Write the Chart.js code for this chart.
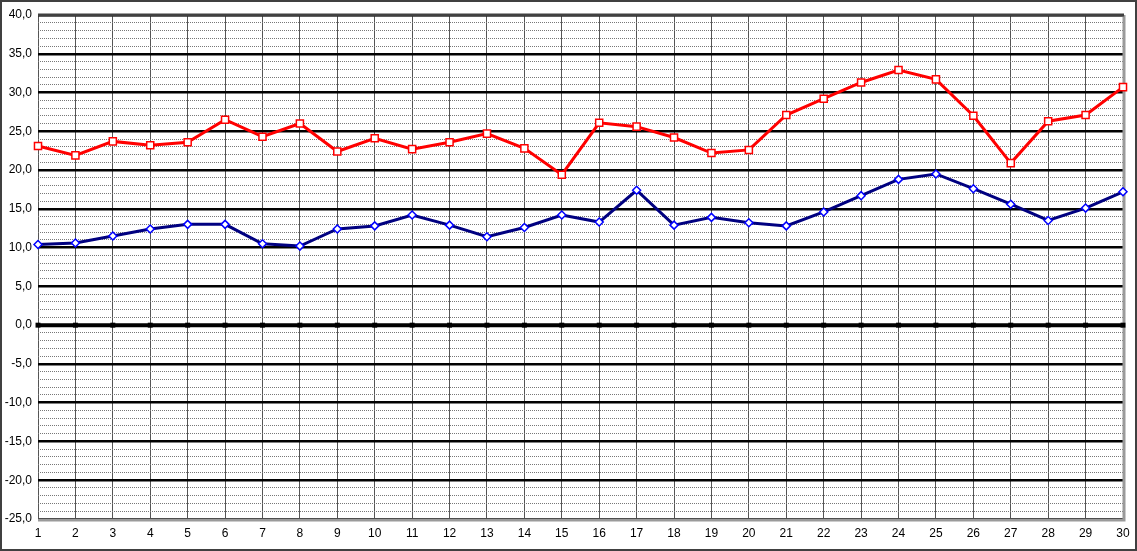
<!DOCTYPE html>
<html>
<head>
<meta charset="utf-8">
<script src="https://cdn.jsdelivr.net/npm/chart.js@4/dist/chart.umd.min.js"></script>
<style>
    body { margin: 0; background: #fff; }
    canvas { display: block; }
</style>
</head>
<body>
<canvas id="chart" width="1137" height="551"></canvas>
<script>
// days of the month
const categories = ['1', '2', '3', '4', '5', '6', '7', '8', '9', '10',
    '11', '12', '13', '14', '15', '16', '17', '18', '19', '20',
    '21', '22', '23', '24', '25', '26', '27', '28', '29', '30'];

// upper (red) series
const redValues = [23.1, 21.9, 23.7, 23.2, 23.6, 26.5, 24.3, 26.0, 22.4, 24.1,
    22.7, 23.6, 24.7, 22.8, 19.4, 26.1, 25.6, 24.2, 22.2, 22.6,
    27.1, 29.2, 31.3, 32.9, 31.7, 27.0, 20.9, 26.3, 27.1, 30.7];

// lower (navy) series
const blueValues = [10.4, 10.6, 11.5, 12.4, 13.0, 13.0, 10.5, 10.2, 12.4, 12.8,
    14.2, 12.9, 11.4, 12.6, 14.2, 13.3, 17.4, 12.9, 13.9, 13.2,
    12.8, 14.6, 16.7, 18.8, 19.5, 17.6, 15.6, 13.5, 15.1, 17.2];

// zero reference series
const zeroValues = [0, 0, 0, 0, 0, 0, 0, 0, 0, 0,
    0, 0, 0, 0, 0, 0, 0, 0, 0, 0,
    0, 0, 0, 0, 0, 0, 0, 0, 0, 0];

const yMin = -25;
const yMax = 40;

// frame round the picture and border of the plot area
const framePlugin = {
    id: 'frame',
    beforeDatasetsDraw(chart) {
        const ctx = chart.ctx;
        const a = chart.chartArea;
        ctx.save();
        ctx.lineWidth = 3;
        ctx.strokeStyle = '#9a9a9a';
        ctx.beginPath();
        ctx.moveTo(a.right + 1, a.top);
        ctx.lineTo(a.right + 1, a.bottom + 1);
        ctx.lineTo(a.left, a.bottom + 1);
        ctx.stroke();
        ctx.strokeStyle = '#404040';
        ctx.beginPath();
        ctx.moveTo(a.left, a.top);
        ctx.lineTo(a.right + 1, a.top);
        ctx.stroke();
        ctx.restore();
    },
    afterDraw(chart) {
        const ctx = chart.ctx;
        ctx.save();
        ctx.lineWidth = 2;
        ctx.strokeStyle = '#404040';
        ctx.strokeRect(1, 1, chart.width - 2, chart.height - 2);
        ctx.restore();
    }
};

Chart.defaults.font.family = '"Liberation Sans", Arial, sans-serif';
Chart.defaults.font.size = 12;
Chart.defaults.color = '#000';

new Chart(document.getElementById('chart').getContext('2d'), {
    type: 'line',
    data: {
        labels: categories,
        datasets: [
            {
                data: redValues,
                borderColor: '#ff0000',
                borderWidth: 3,
                pointStyle: 'rect',
                pointRadius: 5,
                pointBorderWidth: 1.5,
                pointBorderColor: '#ff0000',
                pointBackgroundColor: '#ffffff',
                tension: 0
            },
            {
                data: blueValues,
                borderColor: '#000080',
                borderWidth: 3,
                pointStyle: 'rectRot',
                pointRadius: 4,
                pointBorderWidth: 1.5,
                pointBorderColor: '#0000ff',
                pointBackgroundColor: '#ffffff',
                tension: 0
            },
            {
                data: zeroValues,
                borderColor: '#000000',
                borderWidth: 4,
                pointStyle: 'rect',
                pointRadius: 3.5,
                pointBorderWidth: 0,
                pointBackgroundColor: '#000000',
                tension: 0
            }
        ]
    },
    options: {
        responsive: false,
        animation: false,
        devicePixelRatio: 1,
        layout: {
            padding: { top: 15, right: 14, bottom: 0, left: 0 }
        },
        plugins: {
            legend: { display: false },
            tooltip: { enabled: false }
        },
        scales: {
            x: {
                type: 'category',
                offset: false,
                grid: {
                    offset: false,
                    color: '#555',
                    lineWidth: 1,
                    drawTicks: false
                },
                border: { display: false },
                ticks: {
                    autoSkip: false,
                    maxRotation: 0,
                    padding: 7
                },
                afterFit: scale => { scale.height = 32; }
            },
            yMinor: {
                type: 'linear',
                position: 'left',
                min: yMin,
                max: yMax,
                ticks: { stepSize: 1, display: false },
                grid: {
                    drawTicks: false,
                    lineWidth: 1,
                    color: ctx => (ctx.tick && ctx.tick.value % 5 === 0) ? 'rgba(0,0,0,0)' : '#777'
                },
                border: { display: false, dash: [1, 1] },
                afterFit: scale => { scale.width = 0; }
            },
            y: {
                type: 'linear',
                position: 'left',
                min: yMin,
                max: yMax,
                ticks: {
                    stepSize: 5,
                    padding: 6,
                    callback: value => value.toFixed(1).replace('.', ',')
                },
                grid: {
                    drawTicks: false,
                    lineWidth: 2.5,
                    color: '#000'
                },
                border: { display: false },
                afterFit: scale => { scale.width = 38; }
            }
        }
    },
    plugins: [framePlugin]
});
</script>
</body>
</html>
